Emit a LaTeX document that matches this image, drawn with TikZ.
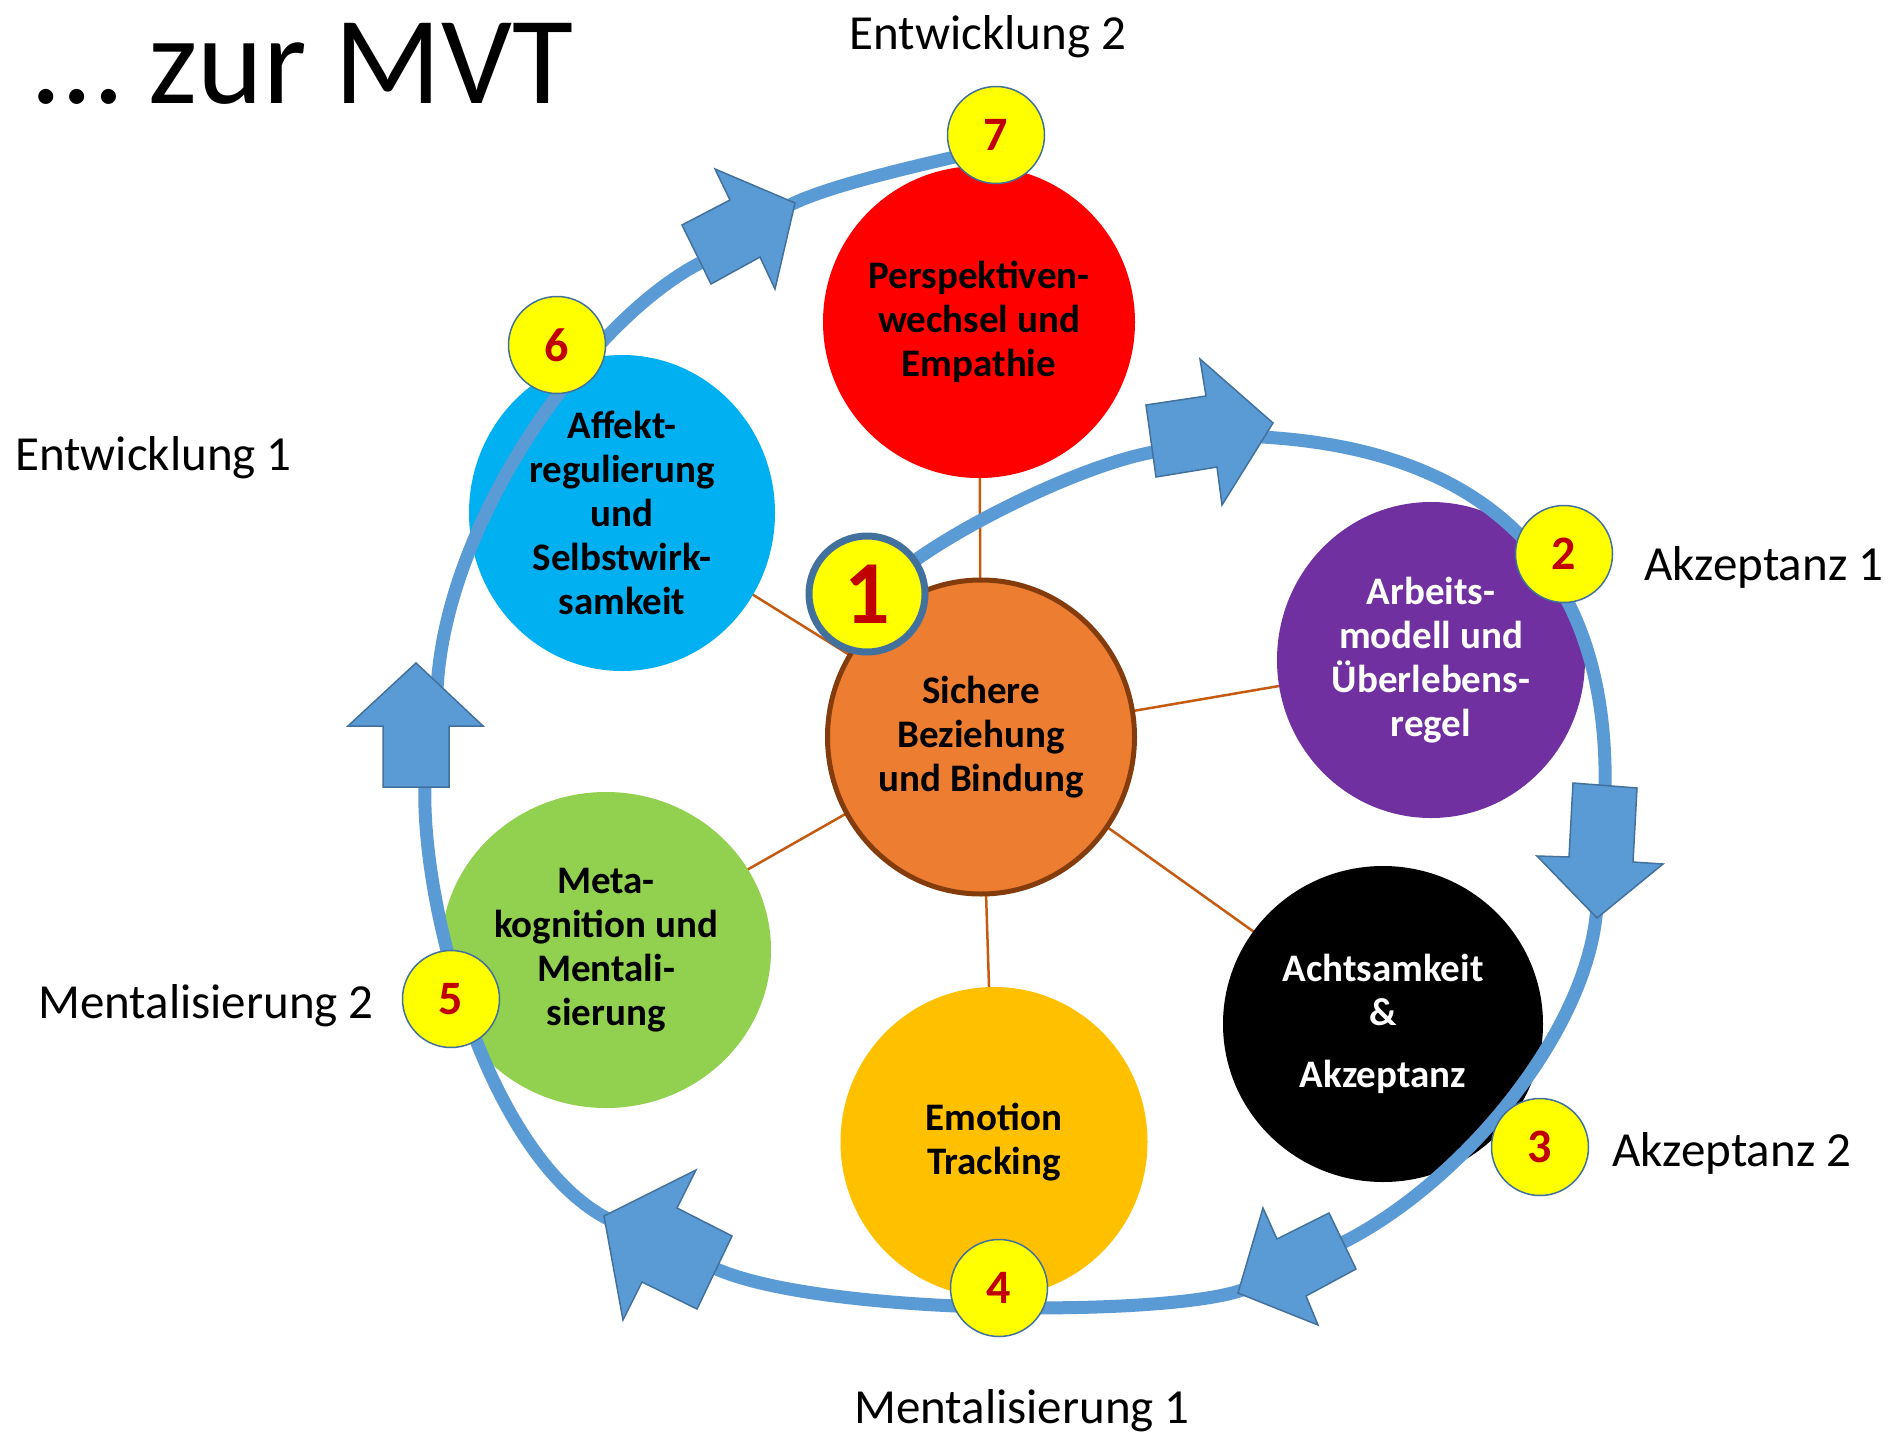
\documentclass[tikz,border=0pt]{standalone}
\usepackage{fontspec}
\setmainfont{Carlito}
\usetikzlibrary{shapes.geometric,backgrounds}
\definecolor{ringblue}{HTML}{5B9BD5}
\definecolor{ringedge}{HTML}{41719C}
\definecolor{spokecol}{HTML}{C55A11}
\definecolor{cOrange}{HTML}{ED7D31}
\definecolor{cOrangeEdge}{HTML}{843C0C}
\definecolor{cRed}{HTML}{FF0000}
\definecolor{cCyan}{HTML}{00B0F0}
\definecolor{cPurple}{HTML}{7030A0}
\definecolor{cAmber}{HTML}{FFC000}
\definecolor{cGreen}{HTML}{92D050}
\definecolor{cYellow}{HTML}{FFFF00}
\definecolor{cNum}{HTML}{C00000}
\begin{document}
\begin{tikzpicture}[x=1pt,y=-1pt,
  disc/.style={ellipse, inner sep=0pt},
  disctext/.style={align=center, font=\bfseries\fontsize{39}{44}\selectfont, inner sep=0pt},
  badge/.style={circle, fill=cYellow, draw=ringedge, line width=1.5pt, minimum size=97pt, inner sep=0pt, font=\bfseries\fontsize{48}{48}\selectfont, text=cNum},
  bigbadge/.style={badge, line width=7pt, minimum size=116pt, font=\bfseries\fontsize{90}{90}\selectfont},
  outerlabel/.style={font=\fontsize{49}{55}\selectfont, inner sep=0pt, anchor=base west},
  ring/.style={draw=ringblue, line width=13pt},
  blockarrow/.style={fill=ringblue, draw=ringedge, line width=1.5pt, line join=miter},
  spokeline/.style={draw=spokecol, line width=2.5pt}]
\useasboundingbox (0,0) rectangle (1899,1432);

% title and outer labels
\node[font=\fontsize{125}{130}\selectfont, inner sep=0pt, anchor=base west] (title) at (34,103) {… zur MVT};
\node[outerlabel, anchor=base] (lE2) at (988,49) {Entwicklung 2};
\node[outerlabel] (lE1) at (15,470) {Entwicklung 1};
\node[outerlabel] (lA1) at (1644,580) {Akzeptanz 1};
\node[outerlabel] (lA2) at (1612,1166) {Akzeptanz 2};
\node[outerlabel] (lM2) at (38,1018) {Mentalisierung 2};
\node[outerlabel] (lM1) at (854,1423) {Mentalisierung 1};

% discs
\node[disc, fill=cOrange, draw=cOrangeEdge, line width=5pt, minimum width=307pt, minimum height=314pt] (cen) at (981,737) {};
\node[disc, fill=cRed, minimum width=312pt, minimum height=312pt] (red) at (979,322) {};
\node[disc, fill=cCyan, minimum width=306pt, minimum height=316pt] (cyan) at (622,513) {};
\node[disc, fill=cPurple, minimum width=308pt, minimum height=316pt] (purple) at (1431,660) {};
\node[disc, fill=black, minimum width=320pt, minimum height=316pt] (blk) at (1383,1024) {};
\node[disc, fill=cAmber, minimum width=307pt, minimum height=310pt] (amber) at (994,1142) {};
\node[disc, fill=cGreen, minimum width=330pt, minimum height=316pt] (green) at (606,950) {};

% spokes behind
\begin{scope}[on background layer]
\fill[white] (0,0) rectangle (1899,1432);
\foreach \t in {red,cyan,purple,blk,amber,green}
  \draw[spokeline] (cen.center) -- (\t.center);
\end{scope}

% ring key points
\coordinate (r1s) at (905,568);
\coordinate (aAb) at (1160,451);
\coordinate (aAt) at (1262,437);
\coordinate (aBb) at (1605,792);
\coordinate (aBt) at (1597,905);
\coordinate (aCb) at (1342,1243);
\coordinate (aCt) at (1245,1289);
\coordinate (aDb) at (710,1266);
\coordinate (aDt) at (610,1220);
\coordinate (aEb) at (425,780);
\coordinate (aEt) at (437,690);
\coordinate (aFb) at (700,263);
\coordinate (aFt) at (790,205);
\coordinate (r7e) at (985,150);

% ring segments
\draw[ring] (r1s) .. controls (960,525) and (1090,461) .. (aAb);
\draw[ring] (aAt) .. controls (1490,450) and (1610,570) .. (aBb);
\draw[ring] (aBt) .. controls (1590,1030) and (1462,1183) .. (aCb);
\draw[ring] (aCt) .. controls (1170,1318) and (810,1316) .. (aDb);
\draw[ring] (aDt) .. controls (490,1160) and (420,910) .. (aEb);
\draw[ring] (aEt) .. controls (445,520) and (590,320) .. (aFb);
\draw[ring] (aFt) .. controls (830,185) and (920,165) .. (r7e);

% block arrows
\draw[blockarrow] (1146,405) -- (1156,477) -- (1217,467) -- (1222,505) -- (1273,423) -- (1200,359) -- (1206,396) -- cycle;
\draw[blockarrow] (1573,783) -- (1637,788) -- (1633,862) -- (1663,864) -- (1597,918) -- (1537,856) -- (1569,857) -- cycle;
\draw[blockarrow] (1329,1213) -- (1356,1269) -- (1306,1296) -- (1318,1325) -- (1238,1293) -- (1263,1208) -- (1277,1239) -- cycle;
\draw[blockarrow] (732,1236) -- (697,1309) -- (642,1282) -- (623,1320) -- (604,1216) -- (696,1170) -- (677,1208) -- cycle;
\draw[blockarrow] (416,663) -- (483,726) -- (449,726) -- (449,787) -- (383,787) -- (383,726) -- (348,726) -- cycle;
\draw[blockarrow] (682,225) -- (711,284) -- (760,257) -- (775,289) -- (795,203) -- (715,169) -- (730,200) -- cycle;

% disc texts
\node[disctext] (tcen) at (cen.center) {Sichere\\Beziehung\\und Bindung};
\node[disctext] (tred) at (red.center) {Perspektiven-\\wechsel und\\Empathie};
\node[disctext] (tcyan) at (cyan.center) {Affekt-\\regulierung\\und\\Selbstwirk-\\samkeit};
\node[disctext, text=white] (tpurple) at (purple.center) {Arbeits-\\modell und\\Überlebens-\\regel};
\node[disctext, text=white] (tblk) at (blk.center) {Achtsamkeit\\\&\\[18pt]Akzeptanz};
\node[disctext] (tamber) at (amber.center) {Emotion\\Tracking};
\node[disctext] (tgreen) at (green.center) {Meta-\\kognition und\\Mentali-\\sierung};

% badges
\node[bigbadge] (b1) at (867,594) {1};
\node[badge] (b2) at (1564,554) {2};
\node[badge] (b3) at (1540,1147) {3};
\node[badge] (b4) at (999,1288) {4};
\node[badge] (b5) at (451,999) {5};
\node[badge] (b6) at (557,345) {6};
\node[badge] (b7) at (996,135) {7};
\end{tikzpicture}
\end{document}
